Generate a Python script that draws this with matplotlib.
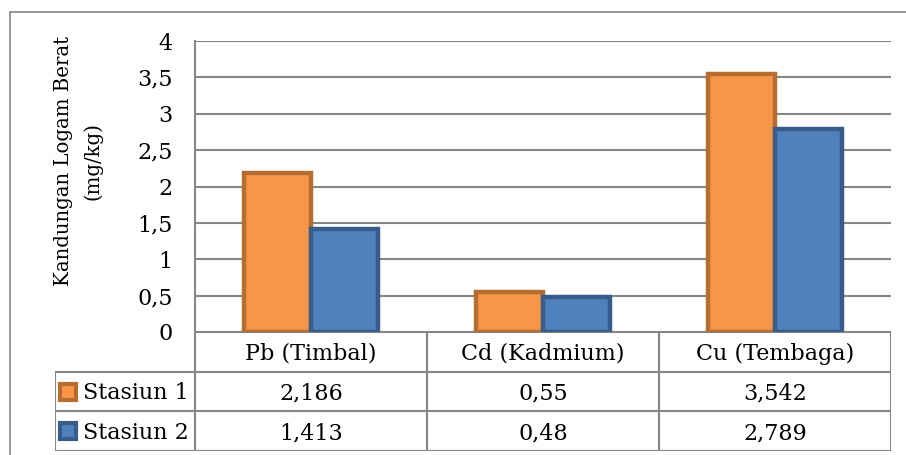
import matplotlib
matplotlib.use("Agg")
import matplotlib.pyplot as plt
from matplotlib.patches import Rectangle
from matplotlib.ticker import FuncFormatter

categories = ["Pb (Timbal)", "Cd (Kadmium)", "Cu (Tembaga)"]
series_names = ["Stasiun 1", "Stasiun 2"]
stasiun1 = [2.186, 0.55, 3.542]
stasiun2 = [1.413, 0.48, 2.789]
ylabel = "Kandungan Logam Berat\n(mg/kg)"

face = ["#F79646", "#4F81BD"]
edge = ["#B66D31", "#385D8A"]
grid_c = "#868686"
FONT = "DejaVu Serif"
FS = 16

W, H = 906, 455
fig = plt.figure(figsize=(W / 100, H / 100), dpi=100)

def fx(px):
    return px / W

def fy(py):
    return 1 - py / H

# outer chart border
fig.add_artist(Rectangle((fx(10), fy(475)), fx(920) - fx(10), fy(12) - fy(475),
                         transform=fig.transFigure, fill=False, edgecolor=grid_c, lw=1.2))

L, R, T, B = 195, 891, 41, 332
ax = fig.add_axes([fx(L), fy(B), fx(R) - fx(L), fy(T) - fy(B)])
x = list(range(len(categories)))
bw = 0.289
for i, (vals, off) in enumerate(zip([stasiun1, stasiun2], [-bw / 2, bw / 2])):
    ax.bar([xi + off for xi in x], vals, width=bw, color=face[i], edgecolor=edge[i],
           linewidth=3.2, zorder=3)
ax.set_xlim(-0.5, 2.5)
ax.set_ylim(0, 4)
ax.set_yticks([0, 0.5, 1, 1.5, 2, 2.5, 3, 3.5, 4])
ax.yaxis.set_major_formatter(FuncFormatter(lambda v, p: (f"{v:g}").replace(".", ",")))
ax.set_xticks([])
ax.tick_params(axis="y", length=0, pad=16, labelsize=FS)
for lab in ax.get_yticklabels():
    lab.set_fontfamily(FONT)
ax.grid(axis="y", color=grid_c, lw=1.5, zorder=0)
for s in ["top", "right", "bottom"]:
    ax.spines[s].set_visible(False)
ax.spines["left"].set_color(grid_c)
ax.spines["left"].set_linewidth(1.5)
ax.patch.set_alpha(0)

fig.text(fx(78), fy(161), ylabel, rotation=90, ha="center", va="center",
         fontsize=14.2, family=FONT, multialignment="center", linespacing=1.6)

# data table
TL, TB = 55, 451
tax = fig.add_axes([fx(TL), fy(TB), fx(R) - fx(TL), fy(B) - fy(TB)])
leg_w = (L - TL) / ((R - L) / 3)
tax.set_xlim(-0.5 - leg_w, 2.5)
tax.set_ylim(3, 0)
tax.axis("off")
lk = dict(color=grid_c, lw=1.5, solid_capstyle="butt")
tax.plot([-0.5, 2.5], [0, 0], **lk)
for yy in [1, 2, 3]:
    tax.plot([-0.5 - leg_w, 2.5], [yy, yy], **lk)
tax.plot([-0.5 - leg_w] * 2, [1, 3], **lk)
for xx in [-0.5, 0.5, 1.5, 2.5]:
    tax.plot([xx, xx], [0, 3], **lk)
for xi, c in zip(x, categories):
    tax.text(xi, 0.55, c, ha="center", va="center", fontsize=FS, family=FONT)
for r, (name, vals) in enumerate(zip(series_names, [stasiun1, stasiun2])):
    yy = r + 1.5
    tax.plot([-0.5 - leg_w + 0.056], [yy], marker="s", ms=11, mfc=face[r], mec=edge[r], mew=3)
    tax.text(-0.5 - leg_w + 0.12, yy + 0.05, name, ha="left", va="center", fontsize=FS, family=FONT)
    for xi, v in zip(x, vals):
        tax.text(xi, yy + 0.05, f"{v:g}".replace(".", ","), ha="center", va="center",
                 fontsize=FS, family=FONT)

fig.savefig("out.png", dpi=100)
